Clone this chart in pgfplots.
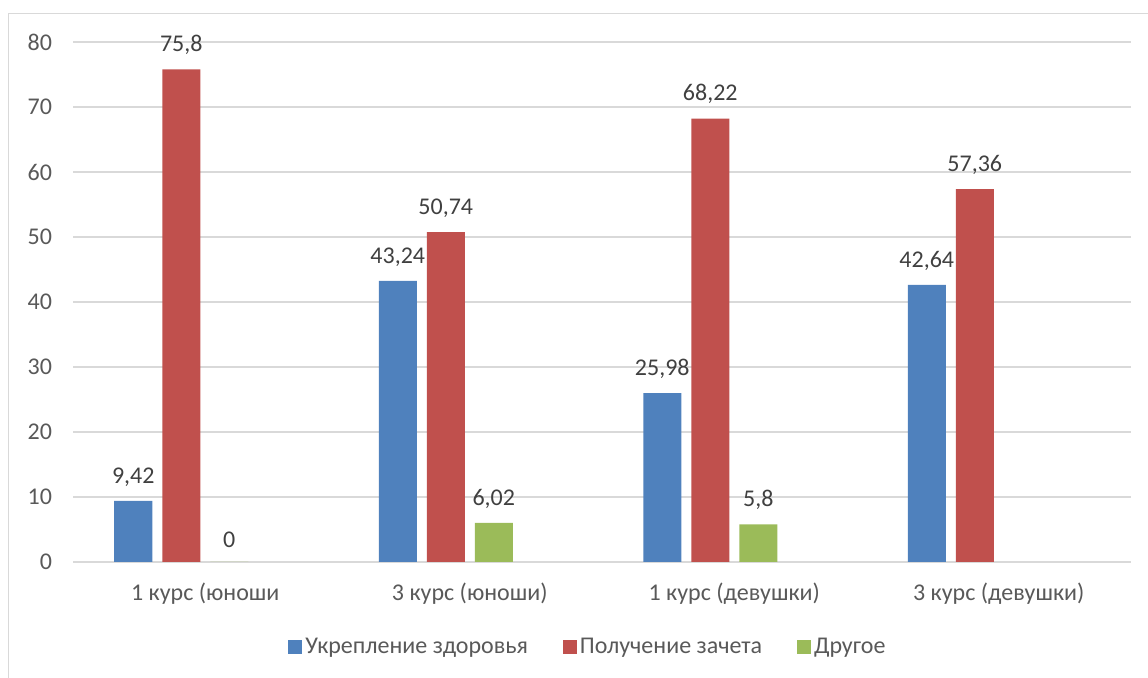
\documentclass[border=0pt]{standalone}
\usepackage{pgfplots}
\pgfplotsset{compat=1.18}
\usepackage{fontspec}
\setmainfont{Carlito}
\definecolor{cblue}{HTML}{4F81BD}
\definecolor{cred}{HTML}{C0504D}
\definecolor{cgreen}{HTML}{9BBB59}
\definecolor{gridc}{HTML}{D9D9D9}
\definecolor{tickc}{HTML}{595959}
\definecolor{labc}{HTML}{404040}
\begin{document}
\begin{tikzpicture}
\useasboundingbox (0pt,0pt) rectangle (574pt,-339pt);
\draw[gridc, line width=0.6pt] (4.25pt,-340pt) -- (4.25pt,-6.75pt) -- (575pt,-6.75pt);
\begin{axis}[
  at={(36.5pt,-281pt)}, anchor=south west,
  scale only axis, width=529pt, height=260pt,
  xmin=-0.5, xmax=3.5, ymin=0, ymax=80,
  ytick={0,10,...,80},
  xtick={0,1,2,3},
  xticklabels={1 курс (юноши, 3 курс (юноши), 1 курс (девушки), 3 курс (девушки)},
  ymajorgrids, grid style={gridc, line width=0.9pt},
  axis line style={draw=none},
  major tick length=0pt,
  tick style={draw=none},
  font=\fontsize{12}{14}\selectfont,
  /pgf/number format/assume math mode=true,
  yticklabel style={text=tickc, anchor=east, xshift=-7pt},
  xticklabel style={text=tickc, yshift=-7pt},
  ybar, bar width=19pt,
  nodes near coords,
  every node near coord/.append style={text=labc, yshift=3.8pt, font=\fontsize{12}{14}\selectfont},
  /pgf/number format/.cd, use comma, precision=2, 1000 sep={},
  /pgfplots/.cd,
  legend columns=3,
  legend style={at={(0.4872,-0.1635)}, anchor=center, draw=none, fill=none,
    text=tickc, font=\fontsize{12}{14}\selectfont,
    nodes={inner xsep=1.5pt},
    /tikz/every odd column/.append style={column sep=0pt},
    /tikz/every even column/.append style={column sep=16pt}},
  legend image code/.code={\fill[#1] (0pt,-3.5pt) rectangle (7pt,3.5pt);},
]
\addplot[fill=cblue, draw=none, bar shift=-36pt] coordinates {(0,9.42) (1,43.24) (2,25.98) (3,42.64)};
\addlegendentry{Укрепление здоровья}
\addplot[fill=cred, draw=none, bar shift=-12pt] coordinates {(0,75.8) (1,50.74) (2,68.22) (3,57.36)};
\addlegendentry{Получение зачета}
\addplot[fill=cgreen, draw=none, bar shift=12pt] coordinates {(0,0) (1,6.02) (2,5.8)};
\addlegendentry{Другое}
\end{axis}
\end{tikzpicture}
\end{document}
